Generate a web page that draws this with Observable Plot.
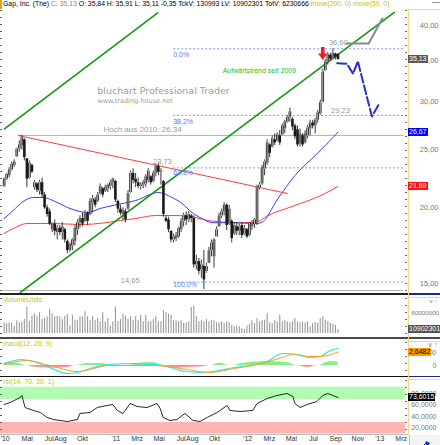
<!DOCTYPE html>
<html><head><meta charset="utf-8">
<script src="https://cdn.jsdelivr.net/npm/d3@7"></script>
<script src="https://cdn.jsdelivr.net/npm/@observablehq/plot@0.6"></script>
<style>
html,body{margin:0;padding:0;background:#fff}
body{width:440px;height:445px;position:relative;overflow:hidden;font-family:"Liberation Sans",Arial,sans-serif}
.panel{position:absolute;left:0}
.panel svg{display:block}
#title{position:absolute;left:3px;top:0;font-size:6.85px;line-height:8px;white-space:nowrap;color:#000}
.badge{position:absolute;font-size:7px;line-height:8px;height:8px;padding:0 1px;white-space:nowrap}
.lbl{position:absolute;left:3px;font-size:7px;line-height:8px;color:#c9c400;white-space:nowrap}
.bar{position:absolute}
.ticks{position:absolute;width:2px;background:repeating-linear-gradient(to bottom,#666 0,#666 1px,transparent 1px,transparent 7px)}
</style></head>
<body>
<div id="title"></div>
<div id="main" class="panel" style="top:8px"></div>
<div id="vol" class="panel" style="top:295px"></div>
<div id="macd" class="panel" style="top:339px"></div>
<div id="rsi" class="panel" style="top:377px"></div>
<script>
// ---------------- DATA ----------------
// weekly OHLC, last bar = week of 2012-09-07
const open  = [21.7,22.3,22.6,23.1,23.5,24.3,25.0,25.3,25.9,24.1,22.4,23.5,21.6,21.9,21.3,22.0,21.0,20.0,19.7,18.4,18.8,18.2,18.5,18.2,18.4,17.6,17.0,17.3,17.6,18.4,18.9,19.2,19.0,19.6,19.5,20.4,20.6,20.5,21.1,21.5,21.3,21.5,21.7,22.0,22.1,20.5,19.9,19.5,19.7,19.9,21.2,22.8,22.3,22.0,21.7,21.8,21.9,22.2,22.5,22.1,22.8,23.4,22.9,22.1,19.2,19.1,18.3,17.7,17.8,17.9,18.4,19.0,19.4,19.1,19.4,19.2,16.1,16.3,15.8,16.0,15.7,16.2,17.0,16.6,17.9,18.6,19.4,19.7,20.2,18.8,19.0,18.1,18.6,18.3,18.7,18.1,18.4,18.0,18.6,18.8,18.9,21.6,21.9,23.2,23.7,25.4,25.2,25.9,25.8,26.3,26.4,27.0,27.7,28.2,28.0,27.3,26.9,25.5,26.3,25.6,26.3,27.0,27.6,27.3,27.9,28.6,29.9,33.7,34.8,35.7,35.2,35.9,35.84];
const high  = [22.4,22.8,23.3,23.8,24.0,25.1,25.8,26.34,26.0,24.1,23.9,23.6,22.2,22.0,22.2,22.4,21.2,20.2,19.9,18.9,19.1,18.7,18.7,18.9,18.5,17.7,17.5,17.8,18.7,19.1,19.4,19.6,19.8,19.7,20.7,20.96,20.8,21.2,21.9,21.6,21.8,21.9,22.2,22.4,22.2,20.6,20.2,20.0,19.9,21.36,23.0,23.2,22.8,22.4,22.0,22.2,22.7,23.2,22.6,23.0,23.6,23.73,23.2,22.2,19.4,19.3,18.3,18.1,18.2,18.6,19.2,19.6,19.7,19.7,19.5,19.4,16.7,16.5,16.4,17.0,16.2,17.2,17.7,17.8,18.6,19.6,19.9,20.4,20.3,20.2,19.1,18.9,18.9,18.8,18.9,18.7,18.5,18.9,19.06,19.2,21.8,22.0,23.5,24.0,25.9,25.5,26.3,26.5,26.6,26.84,27.5,27.9,28.4,29.23,28.2,27.5,27.3,27.0,26.5,26.8,27.35,27.9,27.9,28.1,28.96,30.1,33.9,35.13,36.1,36.0,36.6,36.0,35.91];
const low   = [21.6,22.2,22.4,23.0,23.3,24.2,24.7,24.9,23.9,21.6,22.3,22.8,21.4,21.2,21.0,20.8,19.9,19.3,18.7,18.2,18.0,17.7,18.0,17.7,17.5,16.8,16.9,17.0,17.3,18.0,18.5,18.6,18.9,18.7,19.4,19.6,20.0,20.4,21.0,20.8,21.2,21.2,21.4,21.5,20.4,19.6,19.4,19.06,18.9,19.8,21.1,21.9,21.6,21.5,21.4,21.5,21.6,22.0,21.8,22.0,22.5,22.6,21.8,19.3,18.9,18.2,17.5,17.5,17.6,17.8,18.2,18.6,18.7,18.9,18.9,15.9,15.8,15.5,15.3,14.65,15.6,16.2,16.6,15.9,17.9,18.6,19.2,19.4,18.35,18.7,17.5,18.0,18.0,18.0,17.8,18.0,17.8,17.9,18.35,18.5,18.7,21.4,21.8,22.6,23.5,24.2,25.1,25.35,25.7,25.35,26.3,26.5,27.6,27.7,26.84,25.9,25.2,25.2,25.2,25.5,26.0,26.3,27.0,26.5,27.6,28.4,29.8,33.6,34.4,34.9,35.1,35.1,35.11];
const close = [22.3,22.7,23.1,23.6,23.8,25.0,25.4,26.1,24.2,22.3,23.7,22.9,22.0,21.4,22.0,21.0,20.0,19.5,18.8,18.8,18.3,18.5,18.2,18.6,17.7,17.0,17.4,17.7,18.5,18.9,19.2,18.8,19.6,19.0,20.5,20.7,20.2,21.0,21.7,21.0,21.6,21.8,22.0,22.3,20.6,19.9,19.6,19.8,19.1,21.1,22.8,22.2,22.0,21.7,21.8,22.0,22.5,23.0,22.0,22.8,23.4,22.9,23.0,19.5,19.0,18.4,17.7,17.9,18.0,18.5,19.0,19.4,19.1,19.5,19.2,16.1,16.3,15.7,16.1,15.2,16.0,17.0,17.5,17.7,18.4,19.4,19.7,20.2,18.7,19.9,17.8,18.7,18.3,18.6,18.0,18.5,17.9,18.8,18.9,19.1,21.6,21.8,23.3,23.8,25.6,24.6,26.0,25.6,26.4,25.6,27.3,27.7,28.2,28.8,27.2,26.2,25.4,26.5,25.4,26.5,27.1,27.6,27.3,27.9,28.7,29.8,33.5,34.8,35.8,35.2,36.0,35.48,35.13];
// weekly volume, millions of units
const volume = [32,30,32,30,22,38,32,35,42,78, 35,52,58,50,62,42,45,50,72,60, 50,52,50,42,52,58,22,55,40,38, 50,50,65,50,38,52,38,45,35,62, 35,45,22,35,80,35,42,58,52,42, 50,38,50,38,55,35,55,35,35,42, 50,35,35,68,62,58,55,38,38,35, 38,30,32,35,78,82,50,35,38,35, 42,35,40,38,32,32,35,30,35,32, 25,20,22,20,15,12,22,28,38,30, 45,35,38,40,60,32,30,38,35,55, 35,38,35,32,35,45,35,32,35,32, 35,20,30,32,30,45,50,40,35,30, 28,25,10.902301];
// moving averages (read at week index)
const ma50Idx = [0,3.6,7.5,11.5,15.5,19.4,25,30,33,38,43,52,61,66.4,70.4,74.3,78.3,82.2,91.3,99,101.6,108.3,115,123,128,132];
const ma50Val = [19.2,19.8,20.48,20.8,20.8,20.56,20.03,19.72,19.64,19.95,20.18,20.56,21.2,20.8,20.33,19.64,19.2,18.9,18.9,18.83,18.9,20.72,22.61,24.4,25.6,26.67];
const ma200Idx = [0,3.6,9,19.4,30,40.7,46,52,59.7,67.6,75.5,80.6,91.3,99,104.3,115,125.3,132];
const ma200Val = [18.14,18.48,18.84,18.84,18.77,18.91,19.06,19.2,19.42,19.42,19.28,19.06,18.91,18.91,19.42,20.18,20.96,21.69];
// MACD (12,26,9)
const macdIdx = [0,7,11.5,18,25,29,34,42,51,58,63,67,72,80,85,91,98,104,110,116,121,125,129,132];
const macdVal = [0.39,1.18,0.78,-0.39,-1.57,-1.37,-0.59,0.2,0.39,0.2,0,-0.59,-1.18,-1.37,-0.98,-0.39,0,0.78,2.35,2.16,1.57,1.76,2.94,3.33];
const sigIdx = [0,9,18,29,42,58,70,81,91,100,110,114,121,125,132];
const sigVal = [0.2,0.98,0,-1.18,0,0,-0.59,-1.37,-0.59,0.2,1.57,2.16,1.76,1.76,2.6482];
const histIdx = [0,3,6,9,11.5,18,25,28,33,38,44,48.5,54,59,63,67,72,77.5,81.5,85.4,89,90.5,93,104,112,115.5,120,124,129,132];
const histVal = [0.5,0.6,0.4,0,-0.3,-0.5,-0.4,0,0.4,0.4,0,0,0.5,0.6,0,-0.6,-0.4,-0.3,0,0.5,0,0,0.3,0.8,0.6,0,-0.4,0,0.8,0.7];
// RSI (14)
const rsiIdx = [0,2.4,6.4,7,8.3,11.5,14.3,17,19.4,25,29,30,34,36.8,40.7,43,44.7,47,49.8,52.6,56.5,60.5,61.7,62.9,65.6,68.4,71.5,74.7,77.5,80.3,84.2,88.2,89.3,93.3,98.4,100,104,107.9,111.9,114.2,115,117,119.8,123.7,126,128,130,132];
const rsiVal = [61.3,64.8,73.5,77,56,51,47.4,38.7,35.2,31.7,35.2,45.7,47.4,56,59.6,61.3,51,45.7,63,57.8,56,63,54.3,38.7,33.5,35.2,45.7,33.5,31.7,38.7,47.4,59.6,50.9,49.1,50.9,63,71.7,77,80.4,75.2,63,56,61.3,66.5,77,80.4,77,73.6015];
// drawn tools (date, price)
const upperTrend = [["2010-02-27",26.99],["2011-04-27",41.95]];
const lowerTrend = [["2010-04-12",14.5],["2013-02-10",42.03]];
const redTrend   = [["2010-04-06",26.33],["2012-04-20",21.12]];
const grayProj   = [["2012-09-30",37.36],["2012-12-01",37.36],["2013-01-08",41.08]];
const blueProj   = [["2012-09-05",34.66],["2012-10-02",34.58],["2012-10-19",33.29],["2012-11-01",34.92],["2012-12-10",28.3],["2012-12-29",29.62]];
const hochLevel = 26.34, lowLevel = 14.6;
const fibLevels = [36.61,28.42,23.28,15.08];
const fibNames  = ["0,0%","38,2%","61,8%","100,0%"];
const fibNamePrice = [35.8,27.77,22.87,14.94];
const grayNotes = [["36,60","2012-09-08",37.5],["29,23","2012-09-14",28.96],["23,73","2011-05-10",23.85],["14,65","2011-02-10",15.17]];
const arrowAt = [["2012-07-27",35.96]];
const priceTicks = [15,20,25,30,35,40];
const rsiTicks = [20,40,60,80];
const macdTicks = [0,2.5];
const volTicks = [60];
const xTickDates = ["2010-03-01","2010-05-01","2010-07-01","2010-08-01","2010-10-01","2011-01-01","2011-03-01","2011-05-01","2011-07-01","2011-08-01","2011-10-01","2012-01-01","2012-03-01","2012-05-01","2012-07-01","2012-09-01","2012-11-01","2013-01-01","2013-03-01"];
const xTickLabels = ["'10","Mai","Jul","Aug","Okt","'11","Mrz","Mai","Jul","Aug","Okt","'12","Mrz","Mai","Jul","Sep","Nov","'13","Mrz"];

// ---------------- HELPERS ----------------
const N = close.length;
const lastBar = Date.UTC(2012, 8, 7);
const wk = i => new Date(lastBar - (N - 1 - i) * 7 * 864e5);
const xDomain = [new Date("2010-02-16"), new Date("2013-03-13")];
const fmt = (v, d) => v.toFixed(d).replace(".", ",");
const pts = arr => arr.map(([d, p]) => ({date: new Date(d), price: p}));
const idxPts = (idx, val) => idx.map((i, k) => ({date: wk(i), v: val[k]}));
const style = {background: "transparent", fontFamily: "Liberation Sans, Arial, sans-serif", fontSize: "7px", color: "#666", overflow: "hidden"};
const lineEnd = "2013-03-07";

const bars = close.map((c, i) => ({date: wk(i), open: open[i], high: high[i], low: low[i], close: c}));
const fibRows = fibLevels.map((p, k) => ({p, from: new Date("2011-06-09"), to: new Date(lineEnd), name: fibNames[k], np: fibNamePrice[k]}));
const hRows = [
  {p: hochLevel, from: new Date("2010-04-06"), to: new Date(lineEnd)},
  {p: lowLevel, from: xDomain[0], to: new Date(lineEnd)}
];
const noteRows = grayNotes.map(([t, d, p]) => ({t, date: new Date(d), price: p}));

const arrowSymbol = {draw(ctx, size) {
  const r = Math.sqrt(size / Math.PI);
  ctx.moveTo(-0.28*r, -r); ctx.lineTo(0.28*r, -r); ctx.lineTo(0.28*r, 0);
  ctx.lineTo(0.72*r, 0); ctx.lineTo(0, r); ctx.lineTo(-0.72*r, 0); ctx.lineTo(-0.28*r, 0); ctx.closePath();
}};

// ---------------- MAIN PRICE PANEL ----------------
const mainPlot = Plot.plot({
  width: 440, height: 285, marginLeft: 0, marginRight: 35, marginTop: 0, marginBottom: 0,
  style,
  x: {type: "utc", domain: xDomain, axis: null},
  y: {type: "log", domain: [14.44, 42.67], axis: null},
  marks: [
    Plot.axisY({anchor: "right", ticks: priceTicks, tickFormat: d => fmt(d, 2), tickSize: 0, tickPadding: 33, textAnchor: "end", fontSize: 7.5, color: "#777"}),
    Plot.link(fibRows, {x1: "from", x2: "to", y1: "p", y2: "p", stroke: "#7d96ff", strokeWidth: 1, strokeDasharray: "2,2"}),
    Plot.link(hRows, {x1: "from", x2: "to", y1: "p", y2: "p", stroke: "#b0b0b0", strokeWidth: 1}),
    Plot.line(idxPts(ma200Idx, ma200Val), {x: "date", y: "v", stroke: "#ff3b3b", strokeWidth: 1, curve: "monotone-x"}),
    Plot.line(idxPts(ma50Idx, ma50Val), {x: "date", y: "v", stroke: "#3a3aff", strokeWidth: 1, curve: "monotone-x"}),
    Plot.line(pts(redTrend), {x: "date", y: "price", stroke: "#ff3b3b", strokeWidth: 1}),
    Plot.line(pts(upperTrend), {x: "date", y: "price", stroke: "#109a10", strokeWidth: 1.6}),
    Plot.line(pts(lowerTrend), {x: "date", y: "price", stroke: "#109a10", strokeWidth: 1.6}),
    Plot.line(pts(grayProj), {x: "date", y: "price", stroke: "#8a8a8a", strokeWidth: 2}),
    Plot.ruleX(bars, {x: "date", y1: "low", y2: "high", stroke: "#222", strokeWidth: 0.9}),
    Plot.ruleX(bars, {x: "date", y1: "open", y2: "close", stroke: "#1a1a1a", strokeWidth: 2.6}),
    Plot.ruleX(bars.filter(d => d.close >= d.open), {x: "date", y1: "open", y2: "close", stroke: "#b8b8b8", strokeWidth: 1, insetTop: 0.6, insetBottom: 0.6}),
    Plot.line(pts(blueProj), {x: "date", y: "price", stroke: "#2432c8", strokeWidth: 2, strokeDasharray: "9,3"}),
    Plot.dot(pts(arrowAt), {x: "date", y: "price", symbol: arrowSymbol, r: 6.5, fill: "#e8221c", stroke: "none"}),
    Plot.text(fibRows, {x: "from", y: "np", text: "name", textAnchor: "start", fill: "#5a78ff", fontSize: 7}),
    Plot.text(noteRows, {x: "date", y: "price", text: "t", fill: "#9a9a9a", fontSize: 7.5}),
    Plot.text([{t: "Hoch aus 2010: 26,34", date: new Date("2010-11-28"), price: 26.94}], {x: "date", y: "price", text: "t", textAnchor: "start", fill: "#9a9a9a", fontSize: 8}),
    Plot.text([{t: "Aufwärtstrend seit 2009", date: new Date("2011-10-24"), price: 33.7}], {x: "date", y: "price", text: "t", textAnchor: "start", fill: "#1fbf1f", fontSize: 7}),
    Plot.text([{t: "bluchart Professional Trader", date: new Date("2010-11-11"), price: 31.24}], {x: "date", y: "price", text: "t", textAnchor: "start", fill: "#9c9c9c", fontSize: 9.5, fontFamily: "DejaVu Sans"}),
    Plot.text([{t: "www.trading-house.net", date: new Date("2010-11-11"), price: 30.02}], {x: "date", y: "price", text: "t", textAnchor: "start", fill: "#9c9c9c", fontSize: 6.5, fontFamily: "DejaVu Sans"})
  ]
});
document.getElementById("main").appendChild(mainPlot);

// ---------------- VOLUME PANEL ----------------
const volRows = volume.map((v, i) => ({date: wk(i), v}));
const volPlot = Plot.plot({
  width: 440, height: 42, marginLeft: 0, marginRight: 35, marginTop: 0, marginBottom: 0,
  style,
  x: {type: "utc", domain: xDomain, axis: null},
  y: {domain: [-12, 114], axis: null},
  marks: [
    Plot.ruleX(volRows, {x: "date", y1: 0, y2: "v", stroke: "#9a9a9a", strokeWidth: 1.1}),
    Plot.axisY({anchor: "right", ticks: volTicks, tickFormat: d => String(d * 1e6), tickSize: 0, tickPadding: 6, textAnchor: "start", fontSize: 6.2, color: "#777"})
  ]
});
document.getElementById("vol").appendChild(volPlot);

// ---------------- MACD PANEL ----------------
const histRows = idxPts(histIdx, histVal);
const macdPlot = Plot.plot({
  width: 440, height: 37, marginLeft: 0, marginRight: 35, marginTop: 0, marginBottom: 0,
  style,
  x: {type: "utc", domain: xDomain, axis: null},
  y: {domain: [-2.16, 5.1], axis: null},
  marks: [
    Plot.areaY(histRows, {x: "date", y: d => Math.max(0, d.v), fill: "#86ee86", curve: "monotone-x"}),
    Plot.areaY(histRows, {x: "date", y: d => Math.min(0, d.v), fill: "#ff8f8f", curve: "monotone-x"}),
    Plot.line(idxPts(macdIdx, macdVal), {x: "date", y: "v", stroke: "#26e6f0", strokeWidth: 1.2, curve: "monotone-x"}),
    Plot.line(idxPts(sigIdx, sigVal), {x: "date", y: "v", stroke: "#ff9d1a", strokeWidth: 1, curve: "monotone-x"}),
    Plot.axisY({anchor: "right", ticks: macdTicks, tickFormat: d => d === 0 ? "0" : fmt(d, 4), tickSize: 0, tickPadding: 31, textAnchor: "end", fontSize: 7, color: "#777"})
  ]
});
document.getElementById("macd").appendChild(macdPlot);

// ---------------- RSI PANEL + X AXIS ----------------
const tickLabel = new Map(xTickDates.map((d, k) => [+new Date(d), xTickLabels[k]]));
const bands = [{x1: xDomain[0], x2: xDomain[1], y1: 70, y2: 91.4, c: "#b2fbb2"}, {x1: xDomain[0], x2: xDomain[1], y1: 10.3, y2: 30, c: "#ffb3b3"}];
const rsiPlot = Plot.plot({
  width: 440, height: 68, marginLeft: 0, marginRight: 35, marginTop: 9.7, marginBottom: 11.7,
  style,
  x: {type: "utc", domain: xDomain},
  y: {domain: [10.3, 91.4], axis: null},
  marks: [
    Plot.rect(bands, {x1: "x1", x2: "x2", y1: "y1", y2: "y2", fill: "c"}),
    Plot.line(idxPts(rsiIdx, rsiVal), {x: "date", y: "v", stroke: "#111", strokeWidth: 0.9}),
    Plot.axisY({anchor: "right", ticks: rsiTicks, tickFormat: d => fmt(d, 4), tickSize: 0, tickPadding: 31, textAnchor: "end", fontSize: 7, color: "#777"}),
    Plot.axisX({ticks: xTickDates.map(d => new Date(d)), tickFormat: d => tickLabel.get(+d), tickSize: 0, tickPadding: 2.5, fontSize: 7, color: "#333"})
  ]
});
document.getElementById("rsi").appendChild(rsiPlot);

// ---------------- DECORATION / BADGES ----------------
function box(css) { const e = document.createElement("div"); e.className = "bar"; e.style.cssText = css; document.body.appendChild(e); return e; }
function badge(plot, top, v, text, bg, fg) {
  const y = top + plot.scale("y").apply(v);
  const e = document.createElement("div");
  e.className = "badge"; e.textContent = text;
  e.style.cssText = `left:408px;top:${(y - 4).toFixed(1)}px;background:${bg};color:${fg};`;
  document.body.appendChild(e);
}
// panel separators & axis column
box("left:0;top:293px;width:440px;height:2px;background:#222");
box("left:408px;top:293px;width:32px;height:2px;background:#1c2a8c");
box("left:0;top:337px;width:440px;height:2px;background:#4a4a4a");
box("left:0;top:375.5px;width:440px;height:1.5px;background:#111");
box("left:408px;top:375.5px;width:32px;height:1.5px;background:#1c2a8c");
box("left:0;top:434px;width:408px;height:1px;background:#bdbdbd");
box("left:408px;top:9px;width:1px;height:426px;background:#f2d68c");
box("left:408px;top:9px;width:32px;height:1px;background:#f2d68c");
box("left:408px;top:297px;width:32px;height:1px;background:#f2d68c");
box("left:408px;top:341px;width:32px;height:1px;background:#f2d68c");
box("left:408px;top:379px;width:32px;height:1px;background:#f2d68c");
box("left:0;top:0;width:2px;height:9px;background:#f0a020");
box("left:432px;top:2px;width:8px;height:1px;background:#999");
[[10,283],[298,38],[342,33],[380,54]].forEach(([t,h]) => {
  const a = box(`left:405px;top:${t}px;height:${h}px`); a.className = "ticks";
  const b = box(`left:0;top:${t}px;height:${h}px`); b.className = "ticks";
});
const icon = box("left:409px;top:435px;width:31px;height:10px;border-left:1px solid #bbb;background:#f4f4f4");
icon.innerHTML = '<svg width="31" height="10"><line x1="11" y1="9" x2="17" y2="3" stroke="#222" stroke-width="1"/><path d="M16 2 L20 4 L18 7 L15 5 Z" fill="#1730d0"/></svg>';

badge(mainPlot, 8, close[N-1], fmt(close[N-1], 2), "#5a5a5a", "#fff");
badge(mainPlot, 8, ma50Val[ma50Val.length-1], fmt(ma50Val[ma50Val.length-1], 2), "#0000ff", "#fff");
badge(mainPlot, 8, ma200Val[ma200Val.length-1], fmt(ma200Val[ma200Val.length-1], 2), "#ff1010", "#fff");
badge(volPlot, 295, volume[N-1], String(Math.round(volume[N-1] * 1e6)), "#555", "#fff");
badge(macdPlot, 339, sigVal[sigVal.length-1], fmt(sigVal[sigVal.length-1], 4), "#ff9a00", "#000");
badge(rsiPlot, 377, rsiVal[rsiVal.length-1], fmt(rsiVal[rsiVal.length-1], 4), "#000", "#fff");

// panel labels
[["VolumeUnits", 295.5], ["macd(12, 26, 9)", 339.5], ["rsi(14, 70, 30, 1)", 378]].forEach(([t, top]) => {
  const e = document.createElement("div"); e.className = "lbl"; e.textContent = t; e.style.top = top + "px"; document.body.appendChild(e);
});

// header
const chg = close[N-1] - close[N-2];
document.getElementById("title").innerHTML =
  `Gap, Inc. (The) <span style="color:#8a8a8a">C: ${fmt(close[N-1],2)}</span> O: ${fmt(open[N-1],2)} H: ${fmt(high[N-1],2)} L: ${fmt(low[N-1],2)} ${fmt(chg,2)} TckV: 130993 LV: ${Math.round(volume[N-1]*1e6)} TotV: 6230666 <span style="color:#c9c400">move(200, 0) move(50, 0)</span>`;
</script>
</body></html>
